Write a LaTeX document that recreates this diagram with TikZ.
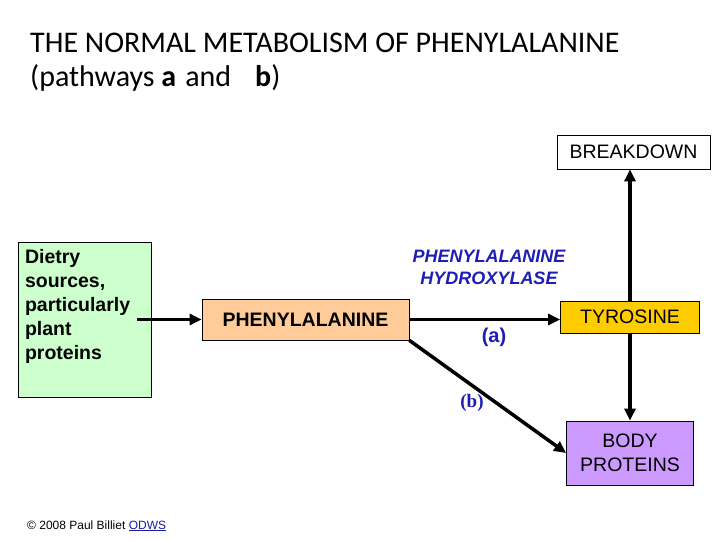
\documentclass[tikz,border=0pt]{standalone}
\usepackage{fontspec}
\setmainfont{Liberation Sans}
\newfontfamily\titlefont{Carlito}
\newfontfamily\romanb{Liberation Serif}
\usepackage{tikz}
\usetikzlibrary{arrows.meta,positioning}
\definecolor{srcgreen}{HTML}{CCFFCC}
\definecolor{phepeach}{HTML}{FFCC99}
\definecolor{tyrgold}{HTML}{FFCC00}
\definecolor{protlilac}{HTML}{CC99FF}
\definecolor{enzblue}{HTML}{1E1EB4}
\definecolor{linkblue}{HTML}{1A1AA0}

\begin{document}
\begin{tikzpicture}[x=1pt, y=-1pt,
  box/.style={draw=black, line width=0.8pt, inner sep=0pt, align=center,
              font=\fontsize{19.5}{24}\selectfont},
  flow/.style={line width=3.5pt, -{Triangle[length=12pt,width=11pt]}},
  enz/.style={text=enzblue, align=center, inner sep=0pt,
              font=\fontsize{18}{22}\selectfont\bfseries\itshape},
  tag/.style={text=enzblue, inner sep=0pt, font=\fontsize{20}{22}\selectfont\bfseries}
]
\useasboundingbox (0,0) rectangle (720,540);

% Title
\node[anchor=base west, inner sep=0pt, font=\fontsize{30}{34}\titlefont] (title) at (30,53)
  {THE NORMAL METABOLISM OF PHENYLALANINE};
\node[anchor=base west, inner sep=0pt, font=\fontsize{30}{34}\titlefont] (subtitle) at (30,87)
  {(pathways~\textbf{a}\hspace{9pt}and\hspace{24pt}\textbf{b})};

% Boxes
\node[box, fill=srcgreen, minimum width=133pt, minimum height=155pt] (diet) at (84.5,319.5)
  {\parbox[c][140pt][t]{119pt}{\raggedright\bfseries Dietry\\ sources,\\ particularly\\ plant\\ proteins}};
\node[box, fill=phepeach, minimum width=207pt, minimum height=41pt, font=\fontsize{19.5}{24}\selectfont\bfseries] (phe) at (305.5,319.5) {PHENYLALANINE};
\node[box, fill=tyrgold, minimum width=139pt, minimum height=32pt] (tyr) at (630,317) {TYROSINE};
\node[box, fill=white, minimum width=153pt, minimum height=34pt] (breakdown) at (633.5,152) {BREAKDOWN};
\node[box, fill=protlilac, minimum width=127pt, minimum height=64pt] (body) at (630,453) {BODY\\PROTEINS};

% Labels
\node[enz] (enzyme) at (489,267) {PHENYLALANINE\\HYDROXYLASE};
\node[tag] (patha) at (494,337) {(a)};
\node[tag, font=\fontsize{19}{22}\romanb\bfseries] (pathb) at (472,403) {(b)};

% Connectors
\draw[flow] ([xshift=-14pt]diet.east) -- (phe.west);
\draw[flow] (phe.east) -- (phe.east -| tyr.west);
\draw[flow] (phe.south east) -- (body.west);
\draw[flow] (tyr.north) -- (tyr.north |- breakdown.south);
\draw[flow] (tyr.south) -- (body.north);

% Credit
\node[anchor=base west, inner sep=0pt, font=\fontsize{12}{14}\selectfont] (credit) at (27,529)
  {\textcopyright{} 2008 Paul Billiet \textcolor{linkblue}{\underline{ODWS}}};
\end{tikzpicture}
\end{document}
